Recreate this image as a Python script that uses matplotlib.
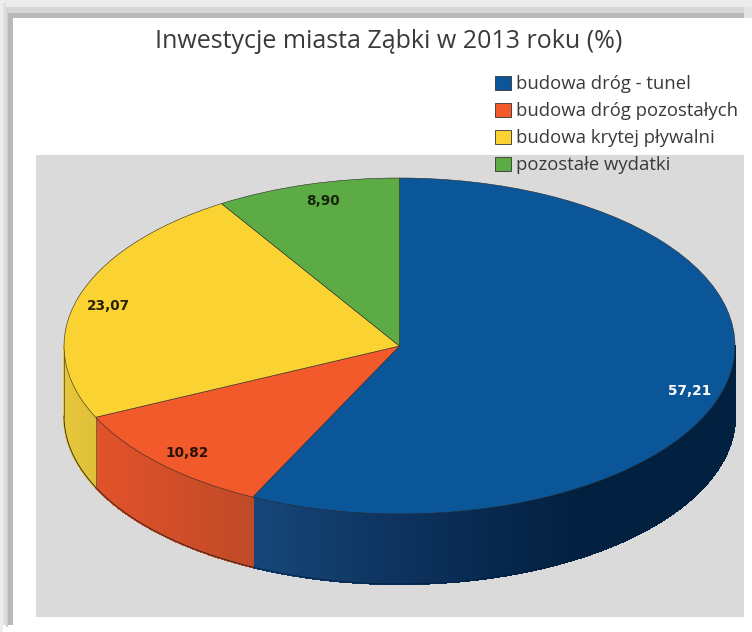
import numpy as np
import matplotlib
matplotlib.use('Agg')
import matplotlib.pyplot as plt
from matplotlib.collections import PolyCollection
from matplotlib.colors import LinearSegmentedColormap
from matplotlib.patches import Rectangle

title = 'Inwestycje miasta Ząbki w 2013 roku (%)'
categories = ['budowa dróg - tunel', 'budowa dróg pozostałych',
              'budowa krytej pływalni', 'pozostałe wydatki']
values = [57.21, 10.82, 23.07, 8.90]
value_labels = ['57,21', '10,82', '23,07', '8,90']
top_colors = ['#0b5699', '#f2592b', '#fad231', '#5dab45']
wall_colors = [['#164679', '#0c305a', '#02203f', '#02203f', '#02203f'],
               ['#e3522a', '#d44f28', '#c04a28'],
               ['#e9c93a', '#dfc03a']]

W, H = 752, 632
CX, CY, RX, RY, DEPTH = 399.5, 346, 335.5, 168, 70

plt.rcParams['font.family'] = ['Open Sans', 'DejaVu Sans']
fig = plt.figure(figsize=(W / 100, H / 100), dpi=100, facecolor='white')

# picture frame and grey plot area, in pixels
bg = fig.add_axes([0, 0, 1, 1], zorder=0)
bg.set_xlim(0, W)
bg.set_ylim(H, 0)
bg.axis('off')
for x0, y0, w, h, c in [(0, 0, W, 7, '#ececec'), (8, 7, W - 8, 6, '#d6d6d6'),
                        (13, 13, W - 13, 5, '#b9b9b9'), (0, 0, 3, 632, '#eeeeee'),
                        (3, 3, 3, 622, '#e0e0e0'), (6, 7, 2, 620, '#d2d2d2'),
                        (8, 13, 5, 612, '#b9b9b9'), (744, 7, 8, 11, '#e4e4e4')]:
    bg.add_patch(Rectangle((x0, y0), w, h, fc=c, ec='none'))
bg.add_patch(Rectangle((36, 155), 708, 462, fc='#dadada', ec='none'))

# pie drawn in unit circle squashed by the axes limits
ax = fig.add_axes([0, 0, 1, 1], zorder=1)
ax.patch.set_alpha(0)
wedges, _ = ax.pie(values, colors=top_colors, startangle=90, counterclock=False,
                   wedgeprops={'edgecolor': '#2a2a2a', 'linewidth': 0.4, 'zorder': 3})
ax.set_aspect('auto')
ax.set_xlim(-CX / RX, (W - CX) / RX)
ax.set_ylim((CY - H) / RY, CY / RY)
ax.axis('off')

# side wall of the slices that face the viewer
depth = DEPTH / RY
edges = np.cumsum([0] + values) / sum(values) * 2 * np.pi
for i, cols in enumerate(wall_colors):
    # wall only exists below the horizontal diameter
    start = max(edges[i], np.pi / 2)
    stop = min(edges[i + 1], 3 * np.pi / 2)
    th = np.linspace(start, stop, 120)
    xs, ys = np.sin(th), np.cos(th)
    quads = [[(xs[j], ys[j]), (xs[j + 1], ys[j + 1]),
              (xs[j + 1], ys[j + 1] - depth), (xs[j], ys[j] - depth)]
             for j in range(len(th) - 1)]
    cmap = LinearSegmentedColormap.from_list('wall', cols)
    shades = np.linspace(1, 0, len(quads))
    ax.add_collection(PolyCollection(quads, facecolors=cmap(shades), edgecolors=cmap(shades),
                                     linewidths=1.0, antialiaseds=False, zorder=2))
    ax.plot(xs, ys - depth, color=cols[-1] if i == 0 else '#222222', lw=0.6, zorder=2.5)
    if i > 0:
        ax.plot([xs[-1], xs[-1]], [ys[-1], ys[-1] - depth], color='#222222', lw=0.4, zorder=2.5)

fig.text(389 / W, 1 - 42 / H, title, ha='center', va='center', fontsize=18, color='#3a3a3a')

for txt, px, py, col in zip(value_labels, [690, 187, 108, 323], [391, 453, 306, 201],
                            ['white', '#2a1208', '#2a2208', '#16260e']):
    fig.text(px / W, 1 - py / H, txt, ha='center', va='center', fontsize=9.8,
             fontweight='bold', color=col, family=['DejaVu Sans'])

leg = fig.legend(wedges, categories, loc='upper left', bbox_to_anchor=(495 / W, 1 - 75 / H),
                 frameon=False, fontsize=13.3, labelspacing=0.49, handlelength=0.87,
                 handleheight=0.8, handletextpad=0.27, borderpad=0, borderaxespad=0,
                 labelcolor='#3a3a3a')
for h in leg.legend_handles:
    h.set_edgecolor('#333333')
    h.set_linewidth(0.6)

fig.savefig('out.png', dpi=100)
